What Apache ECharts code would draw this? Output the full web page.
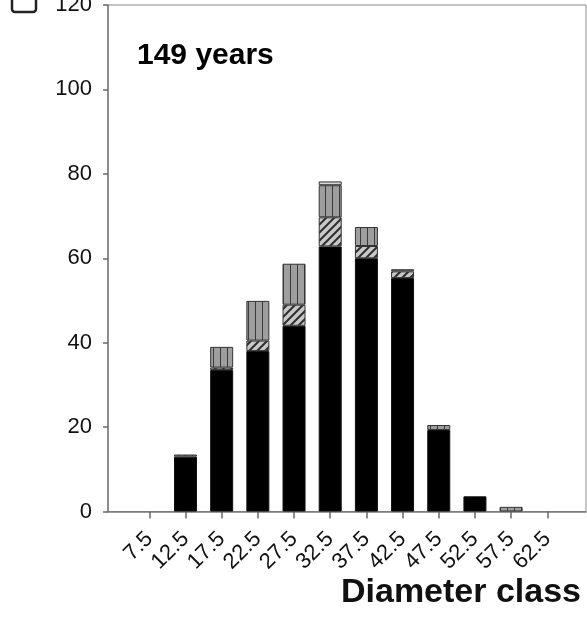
<!DOCTYPE html>
<html>
<head>
<meta charset="utf-8">
<script src="https://cdn.jsdelivr.net/npm/echarts@6/dist/echarts.min.js"></script>
<style>
  html, body { margin: 0; padding: 0; background: #fff; }
  #chart { width: 587px; height: 620px; }
</style>
</head>
<body>
<div id="chart"></div>
<script>
// Diameter classes (cm) and stem counts per class, stacked by condition
const diameterClasses = [7.5, 12.5, 17.5, 22.5, 27.5, 32.5, 37.5, 42.5, 47.5, 52.5, 57.5, 62.5];
const solidCounts   = [0, 13, 33.5, 38, 44, 62.8, 60, 55.3, 19.3, 3.6, 0, 0];
const hatchedCounts = [0, 0, 0.6, 2.5, 5, 6.9, 2.9, 1.6, 0, 0, 0, 0];
const greyCounts    = [0, 0.5, 4.9, 9.4, 9.7, 7.6, 4.5, 0.5, 1.2, 0, 1.1, 0];
const openCounts    = [0, 0, 0, 0, 0, 0.9, 0, 0, 0, 0, 0, 0];
const yTicks = [0, 20, 40, 60, 80, 100, 120];

const panelTitle = '149 years';
const xTitle = 'Diameter class';

// fill patterns for the stacked segments
function hatchFill() {
  const c = document.createElement('canvas');
  c.width = 8; c.height = 8;
  const g = c.getContext('2d');
  g.fillStyle = '#c8c8c8';
  g.fillRect(0, 0, 8, 8);
  g.strokeStyle = '#2e2e2e';
  g.lineWidth = 2;
  g.beginPath();
  g.moveTo(0, 8); g.lineTo(8, 0);
  g.moveTo(-2, 2); g.lineTo(2, -2);
  g.moveTo(6, 10); g.lineTo(10, 6);
  g.stroke();
  return { image: c, repeat: 'repeat' };
}
function stripeFill() {
  const c = document.createElement('canvas');
  c.width = 7; c.height = 4;
  const g = c.getContext('2d');
  g.fillStyle = '#9e9e9e';
  g.fillRect(0, 0, 7, 4);
  g.fillStyle = '#3a3a3a';
  g.fillRect(3, 0, 1, 4);
  return { image: c, repeat: 'repeat' };
}

// rows are [count, diameter]; the count comes first so it is the stacked dimension
const rows = vals => diameterClasses.map((d, i) => [vals[i] ? vals[i] : '-', d]);

const FONT = '"Liberation Sans", Arial, sans-serif';
const chart = echarts.init(document.getElementById('chart'), null, { renderer: 'canvas' });

const segStyle = (color) => ({ color: color, borderColor: '#333', borderWidth: 1 });
const barSeries = (name, vals, style) => ({
  name: name, type: 'bar', stack: 'n', barWidth: 23,
  encode: { x: 1, y: 0 },
  data: rows(vals), itemStyle: style
});

chart.setOption({
  animation: false,
  backgroundColor: '#fff',
  grid: {
    left: 108, right: 1, top: 5, bottom: 108.5,
    containLabel: false,
    outerBoundsMode: 'none',
    show: true, borderColor: '#8a8a8a', borderWidth: 1,
    backgroundColor: 'transparent'
  },
  xAxis: {
    type: 'value',
    min: 1.79, max: 67.85,
    splitLine: { show: false },
    axisLine: { show: true, lineStyle: { color: '#7a7a7a', width: 1.5 } },
    axisTick: {
      show: true, length: 7, inside: false,
      customValues: diameterClasses,
      lineStyle: { color: '#6a6a6a', width: 1.5 }
    },
    axisLabel: {
      customValues: diameterClasses,
      rotate: 45, margin: 24,
      fontFamily: FONT, fontSize: 22, color: '#111',
      formatter: v => String(v)
    }
  },
  yAxis: {
    type: 'value',
    min: 0, max: 120, interval: 20,
    splitLine: { show: false },
    axisLine: { show: true, lineStyle: { color: '#7a7a7a', width: 1.5 } },
    axisTick: { show: true, length: 5, lineStyle: { color: '#6a6a6a', width: 1.5 } },
    axisLabel: {
      margin: 16, fontFamily: FONT, fontSize: 22, color: '#111',
      formatter: v => (yTicks.indexOf(v) >= 0 ? String(v) : '')
    }
  },
  series: [
    barSeries('solid', solidCounts, { color: '#000', borderColor: '#111', borderWidth: 1 }),
    barSeries('hatched', hatchedCounts, segStyle(hatchFill())),
    barSeries('grey', greyCounts, segStyle(stripeFill())),
    barSeries('open', openCounts, segStyle('#d6d6d6'))
  ],
  graphic: [
    { type: 'rect', shape: { x: 12, y: -14, width: 24, height: 26, r: 3 },
      style: { fill: '#fff', stroke: '#222', lineWidth: 2.5 } },
    { type: 'text', x: 137, y: 56,
      style: { text: panelTitle, font: 'bold 30px ' + FONT, fill: '#000',
               align: 'left', verticalAlign: 'middle' } },
    { type: 'text', x: 341, y: 593, scaleX: 1.03,
      style: { text: xTitle, font: 'bold 33px ' + FONT, fill: '#111',
               align: 'left', verticalAlign: 'middle' } }
  ]
});
</script>
</body>
</html>
